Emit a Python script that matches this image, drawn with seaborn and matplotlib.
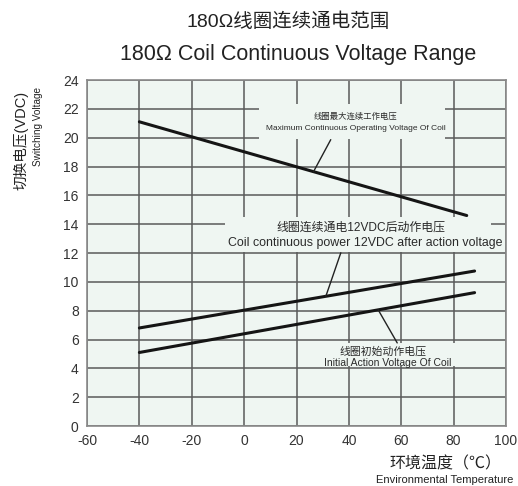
import numpy as np
import pandas as pd
import matplotlib
matplotlib.use('Agg')
import matplotlib.pyplot as plt
from matplotlib.patches import Rectangle
import seaborn as sns

# 数据
temps_max = [-40, 85]
volt_max = [21.1, 14.6]
temps_on = [-40, 88]
volt_on = [6.8, 10.75]
temps_init = [-40, 88]
volt_init = [5.1, 9.25]
series_names = ['max', 'on12', 'init']

x_ticks = list(range(-60, 101, 20))
y_ticks = list(range(0, 25, 2))

df = pd.concat([
    pd.DataFrame({'temp': temps_max, 'volt': volt_max, 'series': 'max'}),
    pd.DataFrame({'temp': temps_on, 'volt': volt_on, 'series': 'on12'}),
    pd.DataFrame({'temp': temps_init, 'volt': volt_init, 'series': 'init'}),
])

sns.set_style('white')
plt.rcParams['font.family'] = ['Liberation Sans', 'Noto Sans CJK SC', 'DejaVu Sans']

bg = '#eff6f2'
grid_c = '#5a5a5a'
txt_c = '#2a2a2a'

fig = plt.figure(figsize=(5.18, 4.86), dpi=100)
ax = fig.add_axes([87 / 518, 1 - 426 / 486, (506 - 87) / 518, (426 - 80) / 486])
ax.set_facecolor(bg)

sns.lineplot(data=df, x='temp', y='volt', hue='series', hue_order=series_names,
             palette=['#151515'] * 3, legend=False, lw=2.2, ax=ax, zorder=5)

ax.set_xlim(-60, 100)
ax.set_ylim(0, 24)
ax.set_xticks(x_ticks)
ax.set_yticks(y_ticks)
ax.set_xticklabels([str(v) for v in x_ticks], fontsize=10, color='#333333')
ax.set_yticklabels([str(v) for v in y_ticks], fontsize=10, color='#333333')
ax.tick_params(length=0, pad=6)
ax.grid(True, color=grid_c, lw=1.1)
ax.set_axisbelow(True)
for s in ax.spines.values():
    s.set_color('#8a8a8a')
    s.set_linewidth(1.2)
ax.set_xlabel('')
ax.set_ylabel('')


def px(x, y):
    return -60 + (x - 87) / 2.6, (426 - y) / 14.4


def box(x0, y0, x1, y1):
    a = px(x0, y1)
    b = px(x1, y0)
    ax.add_patch(Rectangle(a, b[0] - a[0], b[1] - a[1], facecolor=bg,
                           edgecolor='none', zorder=2))


def on_line(xs, ys, x):
    return float(np.interp(x, xs, ys))


# 注释框
box(258, 104, 442, 139)
box(224, 217, 488, 252)
box(312, 343, 460, 366)

ax.text(*px(354, 117), '线圈最大连续工作电压', fontsize=6, color=txt_c,
        ha='center', va='center', zorder=6)
ax.text(*px(354, 129), 'Maximum Continuous Operating Voltage Of Coil', fontsize=6,
        color=txt_c, ha='center', va='center', zorder=6)
ax.text(*px(359, 228), '线圈连续通电12VDC后动作电压', fontsize=8.6, color=txt_c,
        ha='center', va='center', zorder=6)
ax.text(*px(363, 243), 'Coil continuous power 12VDC after action voltage', fontsize=8.9,
        color=txt_c, ha='center', va='center', zorder=6)
ax.text(*px(381, 352), '线圈初始动作电压', fontsize=7.8, color=txt_c,
        ha='center', va='center', zorder=6)
ax.text(*px(386, 363), 'Initial Action Voltage Of Coil', fontsize=7.5, color=txt_c,
        ha='center', va='center', zorder=6)

# 引线
x0, y0 = px(329, 140)
ax.plot([x0, 26.5], [y0, on_line(temps_max, volt_max, 26.5)], color='#222222', lw=1, zorder=6)
x0, y0 = px(339, 253)
ax.plot([x0, 31.2], [y0, on_line(temps_on, volt_on, 31.2)], color='#222222', lw=1, zorder=6)
x1, y1 = px(395, 343)
ax.plot([51.2, x1], [on_line(temps_init, volt_init, 51.2), y1], color='#222222', lw=1, zorder=6)

# 标题和轴标签
fig.text(288 / 518, 1 - 22 / 486, '180Ω线圈连续通电范围', fontsize=14, color='#222222',
         ha='center', va='center')
fig.text(298 / 518, 1 - 54 / 486, '180Ω Coil Continuous Voltage Range', fontsize=15.5,
         color='#222222', ha='center', va='center')
fig.text(21 / 518, 1 - 140 / 486, '切换电压(VDC)', fontsize=10.5, color='#222222',
         ha='center', va='center', rotation=90)
fig.text(38 / 518, 1 - 126 / 486, 'Switching Voltage', fontsize=7.2, color='#222222',
         ha='center', va='center', rotation=90)
fig.text(445 / 518, 1 - 464 / 486, '环境温度（℃）', fontsize=11.5, color='#222222',
         ha='center', va='center')
fig.text(513 / 518, 1 - 480 / 486, 'Environmental Temperature', fontsize=8,
         color='#222222', ha='right', va='center')

fig.savefig('out.png', dpi=100, facecolor='white')
